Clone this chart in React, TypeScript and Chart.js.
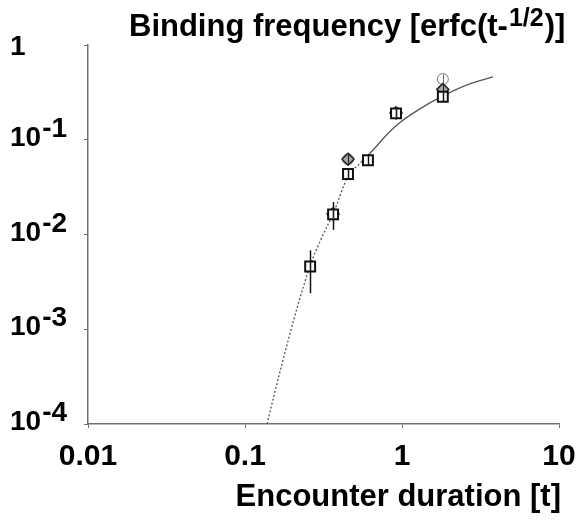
import React, { useEffect, useRef } from 'react';
import { Chart, registerables } from 'chart.js';

Chart.register(...registerables);

// ---- axis ticks ----
const xTickValues = [0.01, 0.1, 1, 10];
const xTickLabels = ['0.01', '0.1', '1', '10'];
const yTickValues = [1e-4, 1e-3, 1e-2, 1e-1, 1];
const yTickExponents = ['-4', '-3', '-2', '-1', ''];

// ---- texts ----
const titleMain = 'Binding frequency [erfc(t-';
const titleSup = '1/2';
const titleEnd = ')]';
const xTitle = 'Encounter duration [t]';

// ---- squares ----
const sqX = [0.26, 0.364, 0.453, 0.607, 0.916, 1.82];
const sqY = [0.0046, 0.0163, 0.0435, 0.0607, 0.19, 0.284];
const sqLo = [0.0024, 0.0112, 0.039, 0.054, 0.17, 0.255];
const sqHi = [0.0068, 0.022, 0.0485, 0.068, 0.212, 0.316];

// ---- circles ----
const ciX = [0.364, 0.453, 0.916, 1.82];
const ciY = [0.0163, 0.0622, 0.192, 0.437];
const ciLo = [0.0145, 0.056, 0.172, 0.39];
const ciHi = [0.0185, 0.069, 0.214, 0.49];

// ---- diamonds ----
const diX = [0.364, 0.453, 0.916, 1.82];
const diY = [0.0165, 0.0622, 0.192, 0.34];
const diLo = [0.0148, 0.056, 0.172, 0.305];
const diHi = [0.0185, 0.069, 0.214, 0.38];

// ---- fitted curve ----
const curveDottedT = [0.138, 0.17, 0.213, 0.26, 0.31, 0.364, 0.453, 0.55];
const curveDottedV = [1e-4, 4.0e-4, 0.0016, 0.0047, 0.0095, 0.0165, 0.041, 0.058];
const curveSolidT = [0.55, 0.65, 0.8, 0.97, 1.3, 1.82, 2.6, 3.8];
const curveSolidV = [0.058, 0.077, 0.113, 0.152, 0.212, 0.29, 0.38, 0.46];

const FONT = 'Arial, "Liberation Sans", sans-serif';

const pts = (xs: number[], ys: number[]) => xs.map((x, i) => ({ x, y: ys[i] }));

const errSets = [
  { xs: sqX, lo: sqLo, hi: sqHi, color: '#111', width: 1.5 },
  { xs: ciX, lo: ciLo, hi: ciHi, color: '#666', width: 1 },
  { xs: diX, lo: diLo, hi: diHi, color: '#222', width: 1.2 },
];

const labelsPlugin = {
  id: 'customLabels',
  afterDatasetsDraw(chart: any) {
    const { ctx, scales } = chart;
    const x = scales.x;
    const y = scales.y;
    ctx.save();
    errSets.forEach((s) => {
      ctx.strokeStyle = s.color;
      ctx.lineWidth = s.width;
      s.xs.forEach((xv, i) => {
        const px = Math.round(x.getPixelForValue(xv)) + 0.5;
        ctx.beginPath();
        ctx.moveTo(px, y.getPixelForValue(s.lo[i]));
        ctx.lineTo(px, y.getPixelForValue(s.hi[i]));
        ctx.stroke();
      });
    });
    ctx.restore();
  },
  afterDraw(chart: any) {
    const { ctx, scales } = chart;
    const x = scales.x;
    const y = scales.y;
    ctx.save();
    ctx.fillStyle = '#000';
    ctx.textBaseline = 'alphabetic';

    // x tick labels
    ctx.font = `bold 30px ${FONT}`;
    ctx.textAlign = 'center';
    xTickValues.forEach((v, i) => {
      ctx.fillText(xTickLabels[i], x.getPixelForValue(v), 465);
    });

    // y tick labels
    ctx.textAlign = 'left';
    ctx.font = `bold 28px ${FONT}`;
    yTickValues.forEach((v, i) => {
      const py = y.getPixelForValue(v);
      const e = yTickExponents[i];
      if (!e) {
        ctx.fillText('1', 10, py + 10);
      } else {
        ctx.fillText('10', 10, py + 6);
        const w = ctx.measureText('10').width;
        ctx.fillText(e, 10 + w + 1, py - 3);
      }
    });

    // title
    ctx.font = `bold 31px ${FONT}`;
    let tx = 129;
    ctx.fillText(titleMain, tx, 36);
    tx += ctx.measureText(titleMain).width;
    ctx.font = `bold 25px ${FONT}`;
    ctx.fillText(titleSup, tx + 1, 26);
    tx += ctx.measureText(titleSup).width + 2;
    ctx.font = `bold 31px ${FONT}`;
    ctx.fillText(titleEnd, tx, 36);

    // x axis title
    ctx.textAlign = 'right';
    ctx.fillText(xTitle, 561, 506);
    ctx.restore();
  },
};

export default function App() {
  const ref = useRef<HTMLCanvasElement | null>(null);
  useEffect(() => {
    if (!ref.current) return;
    const axisColor = '#707070';
    const chart = new Chart(ref.current, {
      type: 'scatter',
      data: {
        datasets: [
          {
            label: 'squares',
            data: pts(sqX, sqY),
            pointStyle: 'rect',
            pointRadius: 7,
            borderColor: '#111',
            backgroundColor: '#fff',
            borderWidth: 2,
            order: 2,
          },
          {
            label: 'diamonds',
            data: pts(diX, diY),
            pointStyle: 'rectRot',
            pointRadius: 6,
            borderColor: '#222',
            backgroundColor: '#aaa',
            borderWidth: 1.5,
            order: 3,
          },
          {
            label: 'circles',
            data: pts(ciX, ciY),
            pointStyle: 'circle',
            pointRadius: 5.5,
            borderColor: '#777',
            backgroundColor: '#fff',
            borderWidth: 1,
            order: 4,
          },
          {
            label: 'fit dotted',
            type: 'line',
            data: pts(curveDottedT, curveDottedV),
            borderColor: '#555',
            borderWidth: 1.3,
            borderDash: [2, 2],
            pointRadius: 0,
            cubicInterpolationMode: 'monotone',
            order: 10,
          },
          {
            label: 'fit solid',
            type: 'line',
            data: pts(curveSolidT, curveSolidV),
            borderColor: '#555',
            borderWidth: 1.3,
            pointRadius: 0,
            cubicInterpolationMode: 'monotone',
            order: 10,
          },
        ],
      } as any,
      options: {
        animation: false,
        responsive: false,
        events: [],
        layout: { padding: { left: 84, right: 27, top: 45, bottom: 95 } },
        plugins: { legend: { display: false }, tooltip: { enabled: false }, title: { display: false } },
        scales: {
          x: {
            type: 'logarithmic',
            min: 0.01,
            max: 10,
            afterBuildTicks: (axis: any) => {
              axis.ticks = xTickValues.map((value) => ({ value }));
            },
            ticks: { display: false },
            grid: { drawOnChartArea: false, drawTicks: true, tickLength: 4, color: axisColor },
            border: { color: axisColor, width: 1.5 },
          },
          y: {
            type: 'logarithmic',
            min: 1e-4,
            max: 1,
            afterBuildTicks: (axis: any) => {
              axis.ticks = yTickValues.map((value) => ({ value }));
            },
            ticks: { display: false },
            grid: { drawOnChartArea: false, drawTicks: true, tickLength: 4, color: axisColor },
            border: { color: axisColor, width: 1.5 },
          },
        },
      } as any,
      plugins: [labelsPlugin],
    });
    return () => chart.destroy();
  }, []);
  return (
    <div style={{ position: 'fixed', left: 0, top: 0, width: 586, height: 523, background: '#fff' }}>
      <canvas ref={ref} width={586} height={523} style={{ display: 'block' }} />
    </div>
  );
}
